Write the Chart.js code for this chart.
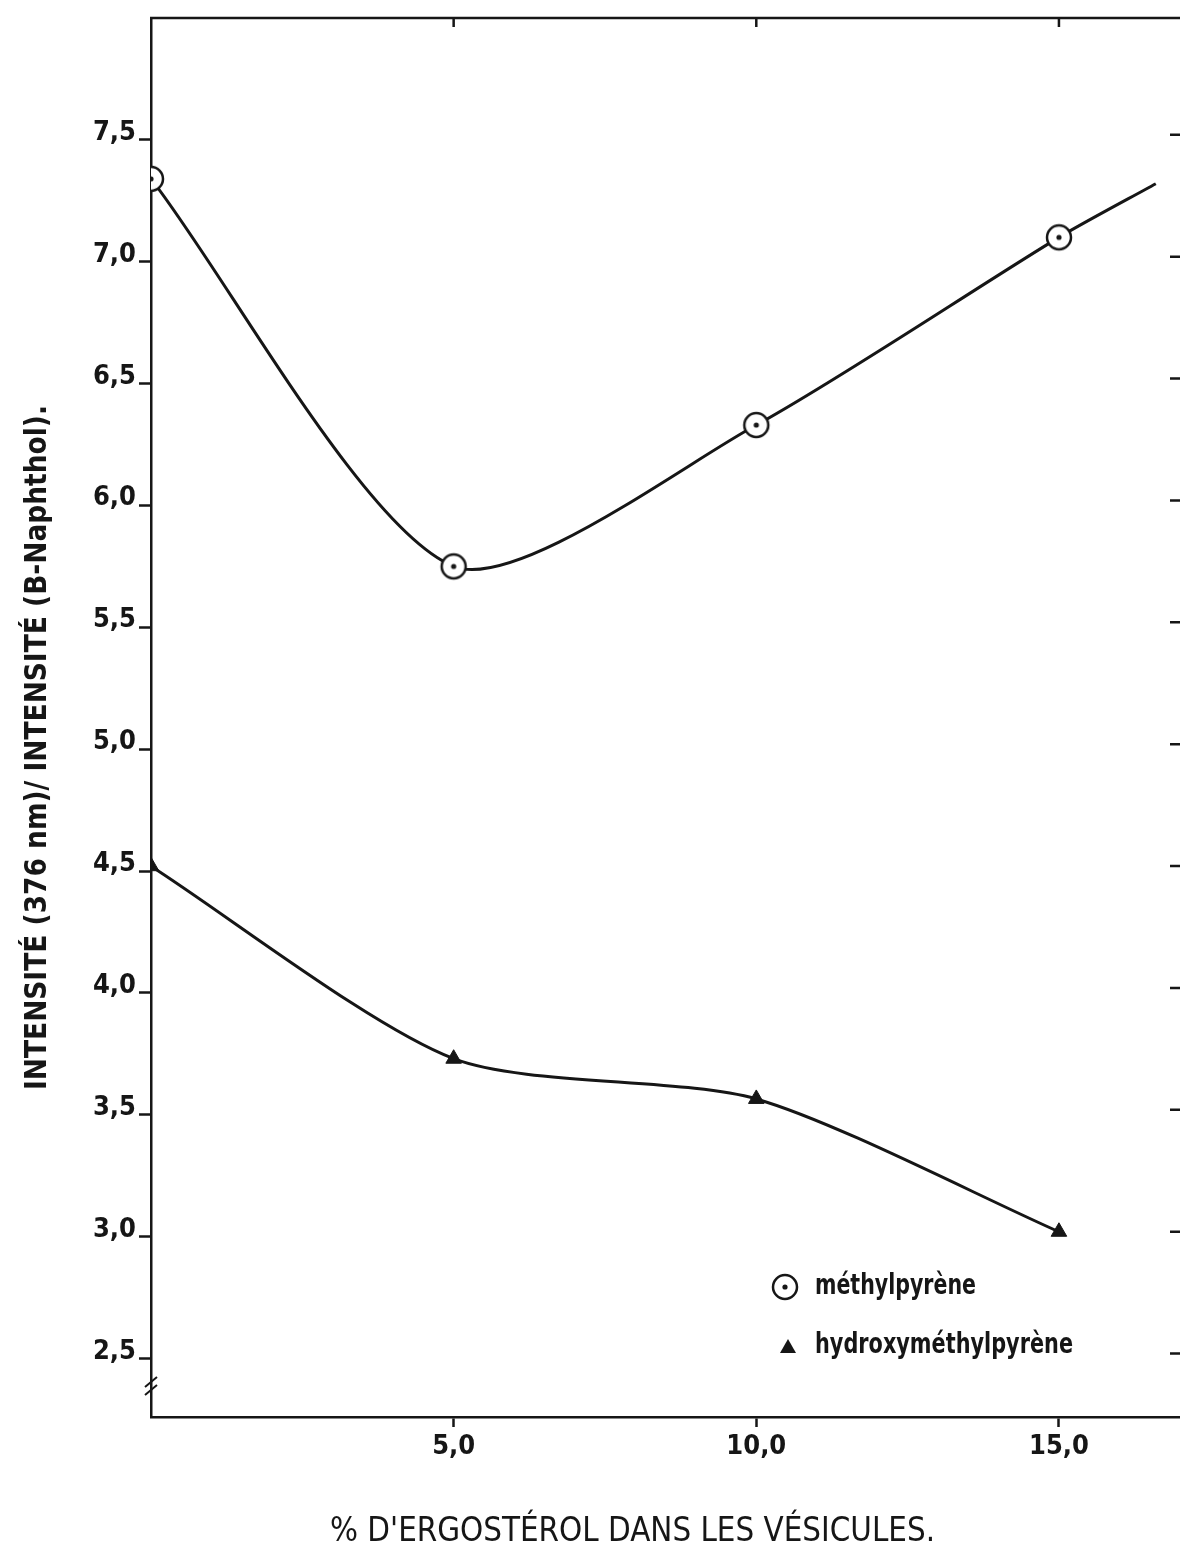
<!DOCTYPE html>
<html>
<head>
<meta charset="utf-8">
<script src="https://cdn.jsdelivr.net/npm/chart.js@4.4.1/dist/chart.umd.min.js"></script>
<style>
  html, body { margin: 0; padding: 0; background: #fff; overflow: hidden; }
  canvas { display: block; }
</style>
</head>
<body>
<canvas id="courbes" width="1180" height="1559"></canvas>
<script>
// % d'ergostérol et rapports d'intensité mesurés
var pctErgosterol = [0, 5, 10, 15];
var methylpyrene = [7.34, 5.75, 6.33, 7.10];
// le trait de la courbe se prolonge au-delà de 15 %
var methylpyreneFinX = 16.6;
var methylpyreneFinY = 7.32;
var hydroxymethylpyrene = [4.52, 3.73, 3.565, 3.02];

var ticksX = [5, 10, 15];
var ticksY = [2.5, 3, 3.5, 4, 4.5, 5, 5.5, 6, 6.5, 7, 7.5];
var nomsSeries = ['méthylpyrène', 'hydroxyméthylpyrène'];
var titreX = "% D'ERGOSTÉROL DANS LES VÉSICULES.";
var titreY = 'INTENSITÉ (376 nm)/ INTENSITÉ (B-Naphthol).';

var ENCRE = '#161616';
var POLICE = "'DejaVu Sans Condensed', 'Liberation Sans', sans-serif";

function virgule(v) { return Number(v).toFixed(1).replace('.', ','); }

// cercle pointé
function cerclePoint(r) {
  var c = document.createElement('canvas');
  c.width = c.height = 2 * r + 6;
  var g = c.getContext('2d');
  var m = c.width / 2;
  g.fillStyle = '#fff';
  g.beginPath(); g.arc(m, m, r, 0, 2 * Math.PI); g.fill();
  g.lineWidth = 2.5; g.strokeStyle = ENCRE; g.stroke();
  g.fillStyle = ENCRE;
  g.beginPath(); g.arc(m, m, 2.6, 0, 2 * Math.PI); g.fill();
  return c;
}
var marqueCercle = cerclePoint(12);

var ptsMethyl = pctErgosterol.map(function (x, i) { return { x: x, y: methylpyrene[i] }; });
ptsMethyl.push({ x: methylpyreneFinX, y: methylpyreneFinY });
var ptsHydroxy = pctErgosterol.map(function (x, i) { return { x: x, y: hydroxymethylpyrene[i] }; });

// écrit un texte sur une largeur donnée (écrasé ou espacé)
function texteAjuste(ctx, texte, x, y, largeur) {
  ctx.letterSpacing = '0px';
  var w = ctx.measureText(texte).width;
  ctx.save();
  ctx.translate(x, y);
  if (w > largeur) {
    ctx.scale(largeur / w, 1);
  } else {
    ctx.letterSpacing = ((largeur - w) / texte.length) + 'px';
  }
  ctx.fillText(texte, 0, 0);
  ctx.restore();
}

var habillage = {
  id: 'habillage',
  afterDraw: function (chart) {
    var ctx = chart.ctx, a = chart.chartArea;
    var sx = chart.scales.x, sy = chart.scales.y;
    ctx.save();
    ctx.strokeStyle = ENCRE;
    ctx.fillStyle = ENCRE;
    ctx.lineWidth = 2.5;

    // bord supérieur et tirets intérieurs
    ctx.beginPath();
    ctx.moveTo(a.left - 1, a.top);
    ctx.lineTo(a.right, a.top);
    ticksX.forEach(function (v) {
      var px = sx.getPixelForValue(v);
      ctx.moveTo(px, a.top);
      ctx.lineTo(px, a.top + 9);
    });
    ticksY.forEach(function (v) {
      var py = sy.getPixelForValue(v) - 5;
      ctx.moveTo(a.right - 10, py);
      ctx.lineTo(a.right, py);
    });
    ctx.stroke();

    // coupure de l'axe des ordonnées
    var yb = a.bottom - 32;
    ctx.lineWidth = 2;
    ctx.beginPath();
    ctx.moveTo(a.left - 6, yb + 2); ctx.lineTo(a.left + 6, yb - 8);
    ctx.moveTo(a.left - 6, yb + 10); ctx.lineTo(a.left + 6, yb);
    ctx.stroke();

    // légende
    ctx.drawImage(marqueCercle, 785 - marqueCercle.width / 2, 1287 - marqueCercle.height / 2);
    ctx.beginPath();
    ctx.moveTo(788, 1339); ctx.lineTo(796, 1353); ctx.lineTo(780, 1353); ctx.closePath();
    ctx.fill();
    ctx.font = 'bold 29px ' + POLICE;
    ctx.textAlign = 'left';
    ctx.textBaseline = 'alphabetic';
    texteAjuste(ctx, nomsSeries[0], 815, 1294, 161);
    texteAjuste(ctx, nomsSeries[1], 815, 1353, 258);

    // titre des abscisses
    ctx.font = '34px ' + POLICE;
    texteAjuste(ctx, titreX, 330, 1541, 605);

    // titre des ordonnées
    ctx.translate(38, 748);
    ctx.rotate(-Math.PI / 2);
    ctx.font = 'bold 30px ' + POLICE;
    ctx.textBaseline = 'middle';
    texteAjuste(ctx, titreY, -342, 0, 685);
    ctx.restore();
  }
};

var policeTicks = { family: POLICE, size: 27, weight: 'bold' };

new Chart(document.getElementById('courbes').getContext('2d'), {
  type: 'line',
  data: {
    datasets: [{
      label: nomsSeries[0],
      data: ptsMethyl,
      borderColor: ENCRE,
      borderWidth: 3,
      tension: 0.25,
      fill: false,
      pointStyle: marqueCercle,
      pointRadius: ptsMethyl.map(function (p, i) { return i < pctErgosterol.length ? 12 : 0; })
    }, {
      label: nomsSeries[1],
      data: ptsHydroxy,
      borderColor: ENCRE,
      borderWidth: 3,
      tension: 0.25,
      fill: false,
      pointStyle: 'triangle',
      pointRadius: 9,
      pointBackgroundColor: ENCRE,
      pointBorderColor: ENCRE,
      pointBorderWidth: 1
    }]
  },
  options: {
    responsive: false,
    devicePixelRatio: 1,
    animation: false,
    layout: { autoPadding: false, padding: { top: 18, right: 0, left: 0, bottom: 0 } },
    plugins: {
      legend: { display: false },
      tooltip: { enabled: false }
    },
    scales: {
      x: {
        type: 'linear',
        min: 0,
        max: 17,
        afterBuildTicks: function (s) { s.ticks = ticksX.map(function (v) { return { value: v }; }); },
        afterFit: function (s) { s.height = 142; s.paddingLeft = 0; s.paddingRight = 0; },
        grid: { drawOnChartArea: false, drawTicks: true, tickLength: 10, tickWidth: 2.5, tickColor: ENCRE },
        border: { display: true, color: ENCRE, width: 2.5 },
        ticks: { color: ENCRE, font: policeTicks, padding: 4, maxRotation: 0, callback: virgule }
      },
      y: {
        type: 'linear',
        min: 2.26,
        max: 8.0,
        afterBuildTicks: function (s) { s.ticks = ticksY.map(function (v) { return { value: v }; }); },
        afterFit: function (s) { s.width = 151; s.paddingTop = 0; s.paddingBottom = 0; },
        grid: { drawOnChartArea: false, drawTicks: true, tickLength: 12, tickWidth: 2.5, tickColor: ENCRE },
        border: { display: true, color: ENCRE, width: 2.5 },
        ticks: { color: ENCRE, font: policeTicks, padding: 3, labelOffset: -7, callback: virgule }
      }
    }
  },
  plugins: [habillage]
});
</script>
</body>
</html>
